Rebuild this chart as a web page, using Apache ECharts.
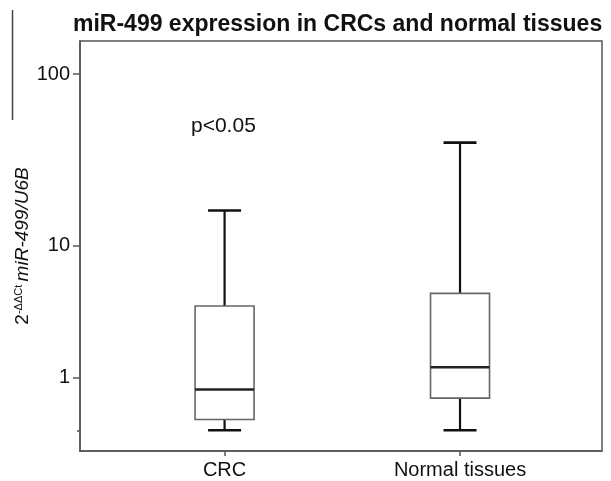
<!DOCTYPE html>
<html>
<head>
<meta charset="utf-8">
<script src="https://cdn.jsdelivr.net/npm/echarts@6/dist/echarts.min.js"></script>
<style>
  html, body { margin: 0; padding: 0; background: #fff; }
  #main { width: 611px; height: 481px; }
</style>
</head>
<body>
<div id="main"></div>
<script>
// box summaries (axis is log10(value + 1))
var categories = ['CRC', 'Normal tissues'];
var minVals = [0.01, 0.01];
var q1Vals = [0.16, 0.53];
var medianVals = [0.71, 1.28];
var q3Vals = [4.03, 4.93];
var maxVals = [16.3, 40.6];
var yTickLabels = [1, 10, 100];

function t(v) { return Math.log10(v + 1); }

var boxData = categories.map(function (c, i) {
  return [i, t(minVals[i]), t(q1Vals[i]), t(medianVals[i]), t(q3Vals[i]), t(maxVals[i])];
});
var yTicks = yTickLabels.map(t);

var myChart = echarts.init(document.getElementById('main'));
var font = 'Liberation Sans, Arial, sans-serif';

var option = {
  backgroundColor: '#fff',
  animation: false,
  title: [
    {
      text: 'miR-499 expression in CRCs and normal tissues',
      left: 68, top: 8,
      textStyle: { fontFamily: font, fontSize: 23, fontWeight: 'bold', color: '#111' }
    },
    {
      text: 'p<0.05',
      left: 186, top: 111,
      textStyle: { fontFamily: font, fontSize: 21, fontWeight: 'normal', color: '#111' }
    }
  ],
  grid: {
    left: 80, right: 9, top: 41, bottom: 30,
    show: true, borderColor: '#555', borderWidth: 1.5,
    outerBoundsMode: 'none'
  },
  xAxis: {
    type: 'value',
    min: -0.614, max: 1.603,
    splitLine: { show: false },
    axisLine: { show: true, onZero: false, lineStyle: { color: '#555', width: 1.5 } },
    axisTick: { show: true, length: 5, customValues: [0, 1], lineStyle: { color: '#555', width: 1.5 } },
    axisLabel: {
      customValues: [0, 1], margin: 9,
      fontFamily: font, fontSize: 20, color: '#111',
      formatter: function (v) { return categories[Math.round(v)]; }
    }
  },
  yAxis: [
    {
      type: 'value',
      min: -0.1123, max: 2.19,
      splitLine: { show: false },
      axisLine: { show: true, onZero: false, lineStyle: { color: '#555', width: 1.5 } },
      axisTick: { show: true, length: 7, customValues: yTicks, lineStyle: { color: '#555', width: 1.5 } },
      axisLabel: {
        customValues: yTicks, margin: 10,
        fontFamily: font, fontSize: 20, color: '#111',
        formatter: function (v) { return String(Math.round(Math.pow(10, v) - 1)); }
      },
      name: '{n|2}{s|-ΔΔCt} {i|miR-499/U6B}',
      nameLocation: 'middle',
      nameRotate: 90,
      nameGap: 48,
      nameMoveOverlap: false,
      nameTextStyle: {
        fontFamily: font, color: '#111',
        rich: {
          n: { fontFamily: font, fontSize: 19, color: '#111' },
          s: { fontFamily: font, fontSize: 11, color: '#111', verticalAlign: 'top', padding: [0, 0, 8, 0] },
          i: { fontFamily: font, fontSize: 19, fontStyle: 'italic', color: '#111' }
        }
      }
    },
    {
      // short tick at zero
      type: 'value',
      min: -0.1123, max: 2.19,
      position: 'left',
      splitLine: { show: false },
      axisLine: { show: false, onZero: false },
      axisTick: { show: true, length: 3, customValues: [0], lineStyle: { color: '#555', width: 1.5 } },
      axisLabel: { show: false, customValues: [0] }
    }
  ],
  graphic: [
    {
      type: 'line',
      shape: { x1: 12.5, y1: 10, x2: 12.5, y2: 120 },
      style: { stroke: '#444', lineWidth: 1.5 }
    }
  ],
  series: [
    {
      type: 'custom',
      data: boxData,
      encode: { x: 0, y: [1, 2, 3, 4, 5] },
      renderItem: function (params, api) {
        var x = api.value(0);
        var pMin = api.coord([x, api.value(1)]);
        var pQ1 = api.coord([x, api.value(2)]);
        var pMed = api.coord([x, api.value(3)]);
        var pQ3 = api.coord([x, api.value(4)]);
        var pMax = api.coord([x, api.value(5)]);
        var cx = pMin[0];
        var bw = 29.5, cw = 16.5;
        var blk = { stroke: '#111', lineWidth: 2.2 };
        return {
          type: 'group',
          children: [
            { type: 'line', shape: { x1: cx, y1: pQ3[1], x2: cx, y2: pMax[1] }, style: blk },
            { type: 'line', shape: { x1: cx, y1: pMin[1], x2: cx, y2: pQ1[1] }, style: blk },
            { type: 'line', shape: { x1: cx - cw, y1: pMax[1], x2: cx + cw, y2: pMax[1] }, style: { stroke: '#111', lineWidth: 2.6 } },
            { type: 'line', shape: { x1: cx - cw, y1: pMin[1], x2: cx + cw, y2: pMin[1] }, style: { stroke: '#111', lineWidth: 2.6 } },
            {
              type: 'rect',
              shape: { x: cx - bw, y: pQ3[1], width: bw * 2, height: pQ1[1] - pQ3[1] },
              style: { fill: '#fff', stroke: '#666', lineWidth: 1.6 }
            },
            { type: 'line', shape: { x1: cx - bw, y1: pMed[1], x2: cx + bw, y2: pMed[1] }, style: { stroke: '#222', lineWidth: 2.4 } }
          ]
        };
      }
    }
  ]
};
myChart.setOption(option);
</script>
</body>
</html>
